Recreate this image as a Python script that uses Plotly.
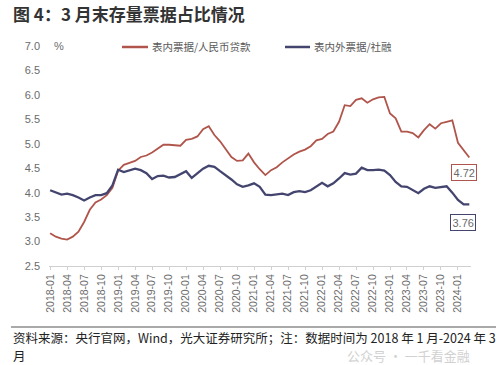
import plotly.graph_objects as go

# ---- data ----
years = ["2018", "2019", "2020", "2021", "2022", "2023", "2024"]
month_nums = ["01", "02", "03", "04", "05", "06", "07", "08", "09", "10", "11", "12"]
months = [f"{y}-{m}" for y in years for m in month_nums][:75]  # 2018-01 .. 2024-03

bill_to_loans = [
    3.17, 3.10, 3.06, 3.04, 3.10, 3.20, 3.40, 3.65, 3.80, 3.86, 3.95, 4.10,
    4.45, 4.57, 4.61, 4.65, 4.73, 4.76, 4.82, 4.90, 4.98, 4.98, 4.97, 4.96,
    5.08, 5.10, 5.15, 5.30, 5.36, 5.18, 5.05, 4.90, 4.73, 4.65, 4.66, 4.80,
    4.62, 4.48, 4.36, 4.46, 4.52, 4.62, 4.70, 4.78, 4.84, 4.88, 4.95, 5.07,
    5.10, 5.20, 5.25, 5.45, 5.79, 5.77, 5.90, 5.93, 5.84, 5.91, 5.95, 5.96,
    5.62, 5.52, 5.25, 5.25, 5.22, 5.13, 5.28, 5.40, 5.31, 5.42, 5.45, 5.48,
    5.02, 4.87, 4.72,
]
bill_to_tsf = [
    4.05, 4.00, 3.96, 3.98, 3.95, 3.90, 3.84, 3.90, 3.95, 3.95, 3.99, 4.15,
    4.47, 4.42, 4.46, 4.49, 4.46, 4.40, 4.28, 4.34, 4.35, 4.31, 4.32, 4.38,
    4.44, 4.30, 4.39, 4.49, 4.55, 4.53, 4.44, 4.36, 4.27, 4.17, 4.12, 4.15,
    4.19, 4.12, 3.96, 3.95, 3.96, 3.98, 3.95, 4.01, 4.03, 4.01, 4.05, 4.12,
    4.20, 4.13, 4.19, 4.29, 4.40, 4.37, 4.39, 4.51, 4.46, 4.46, 4.47, 4.45,
    4.36, 4.22, 4.13, 4.12, 4.05, 3.99, 4.08, 4.13, 4.10, 4.12, 4.13, 4.00,
    3.85, 3.76, 3.76,
]
tick_labels = months[::3]
y_ticks = [2.5, 3.0, 3.5, 4.0, 4.5, 5.0, 5.5, 6.0, 6.5, 7.0]

series_names = ["表内票据/人民币贷款", "表内外票据/社融"]
title_text = "图 4：3 月末存量票据占比情况"
source_line1 = "资料来源：央行官网，Wind，光大证券研究所；注：数据时间为 2018 年 1 月-2024 年 3"
source_line2 = "月"
watermark = "公众号 · 一千看金融"

RED = "#B0554B"
BLUE = "#44456F"
GRAY = "#6b6b6b"

fig = go.Figure()
fig.add_trace(go.Scatter(x=months, y=bill_to_loans, mode="lines",
                         line=dict(color=RED, width=1.8), name=series_names[0],
                         showlegend=False))
fig.add_trace(go.Scatter(x=months, y=bill_to_tsf, mode="lines",
                         line=dict(color=BLUE, width=2.3), name=series_names[1],
                         showlegend=False))

L, R, T, B = 49, 29, 46, 99
PW = 500 - L - R
PH = 365 - T - B


def px(x):
    return (x - L) / PW


def py(y):
    return (365 - B - y) / PH


annotations = [
    dict(text=f"<b>{title_text}</b>", xref="paper", yref="paper",
         x=px(11), y=py(14), xanchor="left", yanchor="middle", showarrow=False,
         font=dict(size=17, color="#333333", family="Noto Sans CJK SC")),
    dict(text="%", xref="paper", yref="paper", x=px(52), y=py(46),
         xanchor="left", yanchor="middle", showarrow=False,
         font=dict(size=11, color=GRAY, family="Liberation Sans")),
    dict(text=series_names[0], xref="paper", yref="paper", x=px(150), y=py(47),
         xanchor="left", yanchor="middle", showarrow=False,
         font=dict(size=10.5, color="#595959", family="Noto Sans CJK SC")),
    dict(text=series_names[1], xref="paper", yref="paper", x=px(312), y=py(47),
         xanchor="left", yanchor="middle", showarrow=False,
         font=dict(size=10.5, color="#595959", family="Noto Sans CJK SC")),
    dict(text=f"{bill_to_loans[-1]:.2f}", x=months[-1], y=bill_to_loans[-1],
         xref="x", yref="y", showarrow=False, xshift=-5, yshift=-15,
         bordercolor=RED, borderwidth=1, borderpad=1.5, bgcolor="white",
         font=dict(size=11, color=GRAY, family="Liberation Sans")),
    dict(text=f"{bill_to_tsf[-1]:.2f}", x=months[-1], y=bill_to_tsf[-1],
         xref="x", yref="y", showarrow=False, xshift=-6, yshift=-18,
         bordercolor=BLUE, borderwidth=1, borderpad=1.5, bgcolor="white",
         font=dict(size=11, color=GRAY, family="Liberation Sans")),
    dict(text=source_line1, xref="paper", yref="paper", x=px(11), y=py(337),
         xanchor="left", yanchor="middle", showarrow=False,
         font=dict(size=12.5, color="#222222", family="Noto Sans CJK SC")),
    dict(text=source_line2, xref="paper", yref="paper", x=px(11), y=py(355),
         xanchor="left", yanchor="middle", showarrow=False,
         font=dict(size=12.5, color="#222222", family="Noto Sans CJK SC")),
    dict(text=watermark, xref="paper", yref="paper", x=px(345), y=py(355),
         xanchor="left", yanchor="middle", showarrow=False, opacity=0.45,
         font=dict(size=13, color="#9a9a9a", family="Noto Sans CJK SC")),
]

shapes = [
    dict(type="line", xref="paper", yref="paper", x0=px(122), x1=px(148),
         y0=py(47), y1=py(47), line=dict(color=RED, width=2.5)),
    dict(type="line", xref="paper", yref="paper", x0=px(285), x1=px(310),
         y0=py(47), y1=py(47), line=dict(color=BLUE, width=2.5)),
    dict(type="line", xref="paper", yref="paper", x0=px(11), x1=px(496),
         y0=py(327), y1=py(327), line=dict(color="#555555", width=1)),
]

fig.update_layout(
    width=500, height=365,
    margin=dict(l=L, r=R, t=T, b=B),
    plot_bgcolor="white", paper_bgcolor="white",
    font=dict(family="Noto Sans CJK SC", color=GRAY),
    annotations=annotations, shapes=shapes,
    xaxis=dict(type="category", categoryorder="array", categoryarray=months,
               range=[-0.2, 74.3], tickmode="array", tickvals=tick_labels,
               ticktext=tick_labels, tickangle=-90, showgrid=False,
               showline=True, linecolor="#d0d0d0", linewidth=1,
               ticks="outside", ticklen=3, tickcolor="#d0d0d0",
               tickfont=dict(size=10.5, color=GRAY, family="Liberation Sans"),
               zeroline=False),
    yaxis=dict(range=[2.5, 7.0], tickvals=y_ticks, tickformat=".1f",
               showgrid=False, showline=False, zeroline=False,
               ticks="", ticklabelstandoff=8,
               tickfont=dict(size=11, color=GRAY, family="Liberation Sans")),
)

fig.write_html("out.html")
